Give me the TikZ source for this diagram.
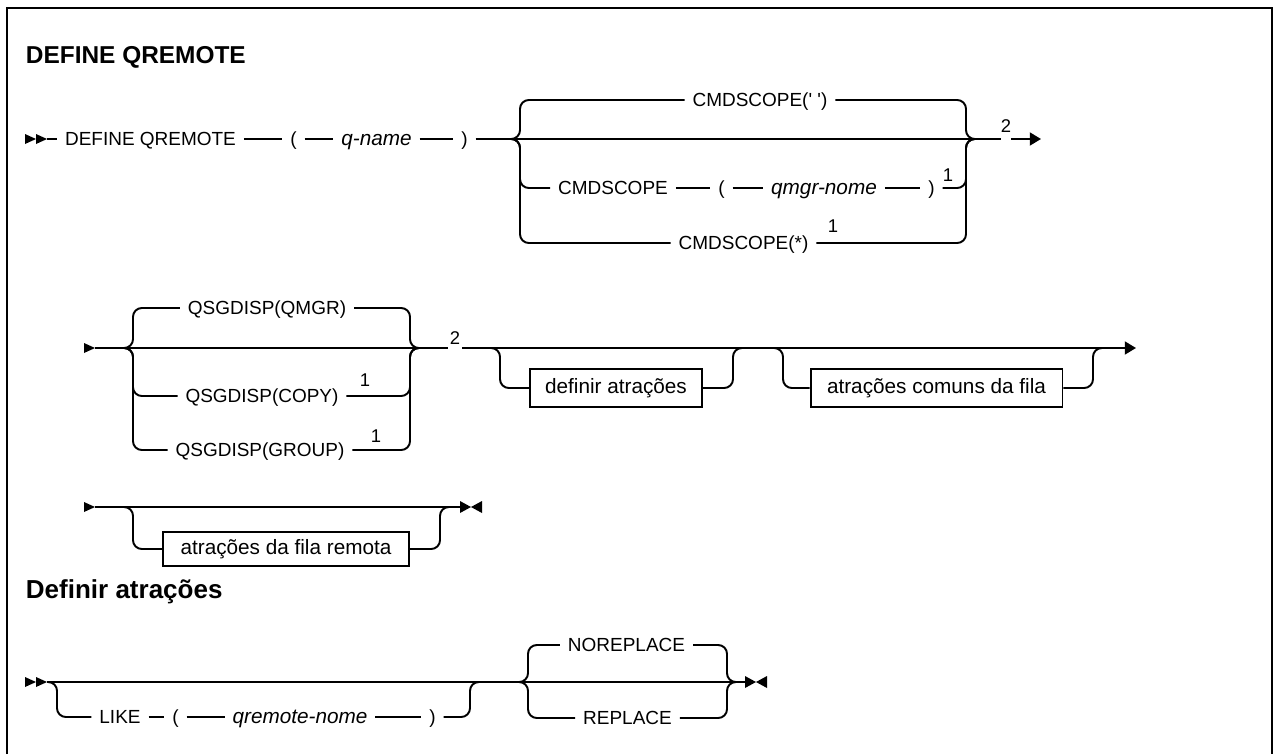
\documentclass[tikz,border=0pt]{standalone}
\usepackage{fontspec}
\setmainfont{Liberation Sans}
\usetikzlibrary{arrows.meta,positioning}
\tikzset{
  >={Triangle[length=6.4pt,width=7.4pt]},
  rail/.style={line width=1.1pt, rounded corners=5pt},
  kw/.style={inner xsep=4pt, inner ysep=0pt, text height=7.8pt, text depth=0pt,
             font=\fontsize{10.8}{13}\selectfont},
  var/.style={kw, font=\fontsize{11.8}{13}\selectfont\itshape},
  fnum/.style={anchor=south, inner sep=0pt, font=\fontsize{10.5}{12}\selectfont},
  fragbox/.style={draw, line width=1.1pt, inner sep=0pt, text height=8.2pt, text depth=2.4pt,
             minimum height=21.5pt, font=\fontsize{11.8}{13}\selectfont},
  heading/.style={anchor=base west, inner sep=0pt, font=\fontsize{13.9}{16}\selectfont\bfseries},
  pics/dstart/.style={code={\fill (0,-5)--(11,0)--(0,5)--cycle; \fill (11,-5)--(22,0)--(11,5)--cycle;}},
  pics/cstart/.style={code={\fill (0,-5)--(11,0)--(0,5)--cycle;}},
  pics/dend/.style={code={\fill (0,-6)--(11,0)--(0,6)--cycle; \fill (22,-6)--(11,0)--(22,6)--cycle;}},
}
\begin{document}
\begin{tikzpicture}[x=0.02cm, y=-0.02cm, line width=1.1pt]
\fill[white] (0,0) rectangle (1274,754);
\useasboundingbox (0,0) rectangle (1274,754);
\draw[line width=1.4pt] (7,754) -- (7,8) -- (1272,8) -- (1272,754);

\node[heading] (title) at (25,63) {DEFINE QREMOTE};

% ===================== ROW 1: DEFINE QREMOTE (q-name) + CMDSCOPE =====================
\pic at (25,139) {dstart};
\coordinate (r1s) at (47,139);
\node[kw] (def) at (150.5,139) {DEFINE QREMOTE};
\node[kw] (lp1) at (293.5,139) {(};
\node[var] (qn) at (376.5,139) {q-name};
\node[kw] (rp1) at (464.5,139) {)};
\coordinate (j1a) at (510,139);
\coordinate (j1b) at (976,139);
\coordinate (g1a) at (1001,139);
\coordinate (g1b) at (1011,139);
\coordinate (e1) at (1041,139);
\draw (r1s) -- (def);
\draw (def) -- (lp1);
\draw (lp1) -- (qn);
\draw (qn) -- (rp1);
\draw (rp1) -- (g1a);
\draw[->] (g1b) -- (e1);
\node[fnum] (n2a) at (1006,133) {2};

\node[kw] (cs1) at (760,100) {CMDSCOPE(\textquotesingle\ \textquotesingle)};
\node[kw] (cs2) at (613,188) {CMDSCOPE};
\node[kw] (lp2) at (721.5,188) {(};
\node[var] (qm) at (824,188) {qmgr-nome};
\node[kw] (rp2) at (931.5,188) {)};
\node[fnum] (n1a) at (948,182) {1};
\node[kw] (cs3) at (743.5,243) {CMDSCOPE(*)};
\node[fnum] (n1b) at (833,233) {1};
\draw[rail] (j1a) -| (520,100) -- (cs1);
\draw[rail] (cs1) -| (966,139) -- (j1b);
\draw[rail] (j1a) -| (520,188) -- (cs2);
\draw (cs2) -- (lp2);
\draw (lp2) -- (qm);
\draw (qm) -- (rp2);
\draw[rail] (rp2) -| (966,139) -- (j1b);
\draw[rail] (j1a) -| (520,243) -- (cs3);
\draw[rail] (cs3) -| (966,139) -- (j1b);

% ===================== ROW 2: QSGDISP + fragments =====================
\pic at (84,348) {cstart};
\coordinate (r2s) at (95,348);
\coordinate (j2a) at (123,348);
\coordinate (j2b) at (420,348);
\coordinate (g2a) at (448,348);
\coordinate (g2b) at (462,348);
\coordinate (e2) at (1136,348);
\draw (r2s) -- (g2a);
\draw[->] (g2b) -- (e2);
\node[fnum] (n2b) at (455,345) {2};

\node[kw] (qs1) at (267,308) {QSGDISP(QMGR)};
\node[kw] (qs2) at (262,396) {QSGDISP(COPY)};
\node[fnum] (n1c) at (365,387) {1};
\node[kw] (qs3) at (260,450) {QSGDISP(GROUP)};
\node[fnum] (n1d) at (376,443) {1};
\draw[rail] (j2a) -| (133,308) -- (qs1);
\draw[rail] (qs1) -| (410,348) -- (j2b);
\draw[rail] (j2a) -| (133,396) -- (qs2);
\draw[rail] (qs2) -| (410,348) -- (j2b);
\draw[rail] (j2a) -| (133,450) -- (qs3);
\draw[rail] (qs3) -| (410,348) -- (j2b);

\node[fragbox, minimum width=97.5pt] (da) at (616,388) {definir atrações};
\coordinate (j3a) at (490,348);
\coordinate (j3b) at (743,348);
\draw[rail] (j3a) -| (500,388) -- (da);
\draw[rail] (da) -| (733,348) -- (j3b);

\node[fragbox, minimum width=143.4pt] (ca) at (936.5,388) {atrações comuns da fila};
\coordinate (j4a) at (773,348);
\coordinate (j4b) at (1103,348);
\draw[rail] (j4a) -| (783,388) -- (ca);
\draw[rail] (ca) -| (1093,348) -- (j4b);

% ===================== ROW 3: remote queue attributes =====================
\pic at (84,507) {cstart};
\coordinate (r3s) at (95,507);
\coordinate (j5a) at (123,507);
\coordinate (j5b) at (450,507);
\coordinate (e3) at (460,507);
\draw (r3s) -- (e3);
\pic at (460,507) {dend};
\node[fragbox, minimum width=139.5pt, minimum height=19.5pt] (ra) at (286,549) {atrações da fila remota};
\draw[rail] (j5a) -| (133,549) -- (ra);
\draw[rail] (ra) -| (440,507) -- (j5b);

% ===================== Definir atrações =====================
\node[heading, font=\fontsize{14.8}{16}\selectfont\bfseries] (sub) at (25,598) {Definir atrações};

\pic at (25,682) {dstart};
\coordinate (r4s) at (47,682);
\coordinate (e4) at (745,682);
\draw (r4s) -- (e4);
\pic at (745,682) {dend};

\node[kw] (like) at (120,717) {LIKE};
\node[kw] (lp3) at (175.5,717) {(};
\node[var] (qr) at (300,717) {qremote-nome};
\node[kw] (rp3) at (432.5,717) {)};
\coordinate (j6b) at (480,682);
\draw[rail] (r4s) -| (57,717) -- (like);
\draw (like) -- (lp3);
\draw (lp3) -- (qr);
\draw (qr) -- (rp3);
\draw[rail] (rp3) -| (470,682) -- (j6b);

\node[kw] (nor) at (626.5,645) {NOREPLACE};
\node[kw] (rep) at (627.5,718) {REPLACE};
\coordinate (j7a) at (518,682);
\coordinate (j7b) at (737,682);
\draw[rail] (j7a) -| (528,645) -- (nor);
\draw[rail] (nor) -| (727,682) -- (j7b);
\draw[rail] (j7a) -| (528,718) -- (rep);
\draw[rail] (rep) -| (727,682) -- (j7b);
\end{tikzpicture}
\end{document}
